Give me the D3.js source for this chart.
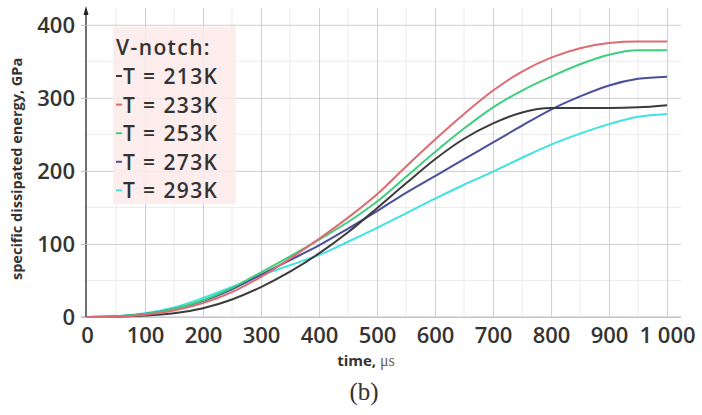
<!DOCTYPE html>
<html>
<head>
<meta charset="utf-8">
<script src="https://cdn.jsdelivr.net/npm/d3@7/dist/d3.min.js"></script>
<style>
  html, body { margin: 0; padding: 0; background: #fff; }
  svg { display: block; }
  text { font-family: "Open Sans", "DejaVu Sans", sans-serif; fill: #333; }
</style>
</head>
<body>
<svg id="chart" width="702" height="415"></svg>
<script>
// Time samples (µs)
const times = [0, 50, 100, 150, 200, 250, 300, 350, 400, 450, 500, 550, 600, 650, 700, 750, 800, 850, 900, 950, 1000];

// Specific dissipated energy (GPa) per test temperature
const e213 = [0, 0.3, 2, 5, 12, 24, 41, 62, 87, 116, 149, 183, 216, 244, 265, 280, 286, 286, 286, 287, 290];
const e233 = [0, 0.5, 3, 9, 19, 34, 55, 80, 107, 136, 168, 206, 243, 278, 310, 336, 355, 368, 375, 377, 377];
const e253 = [0, 1, 4, 11, 23, 40, 61, 83, 106, 130, 158, 192, 226, 258, 287, 310, 329, 346, 359, 365, 365];
const e273 = [0, 1, 4, 11, 22, 38, 58, 78, 98, 121, 145, 170, 193, 216, 239, 262, 284, 302, 317, 326, 329];
const e293 = [0, 1, 5, 13, 26, 41, 57, 71, 85, 103, 122, 142, 162, 181, 199, 218, 236, 251, 264, 274, 278];

const seriesNames = ["T = 213K", "T = 233K", "T = 253K", "T = 273K", "T = 293K"];
const seriesValues = [e213, e233, e253, e273, e293];
const seriesColors = ["#3b3b3b", "#dd6b70", "#3fcf7c", "#4a4f9c", "#3fe3df"];

const xTicks = [0, 100, 200, 300, 400, 500, 600, 700, 800, 900, 1000];
const xTickLabels = ["0", "100", "200", "300", "400", "500", "600", "700", "800", "900", "1 000"];
const yTicks = [0, 100, 200, 300, 400];
const legendTitle = "V-notch:";

const svg = d3.select("#chart");

const x = d3.scaleLinear().domain([0, 1024]).range([87, 681]);
const y = d3.scaleLinear().domain([0, 423]).range([317, 8]);

// minor grid every 50
const minorX = d3.range(50, 1024, 100);
const minorY = d3.range(50, 423, 100);
const grid = svg.append("g");
grid.selectAll("line.mx").data(minorX).join("line")
  .attr("x1", d => x(d)).attr("x2", d => x(d))
  .attr("y1", y(423)).attr("y2", y(0))
  .attr("stroke", "#ececec").attr("stroke-width", 1);
grid.selectAll("line.my").data(minorY).join("line")
  .attr("x1", x(0)).attr("x2", x(1024))
  .attr("y1", d => y(d)).attr("y2", d => y(d))
  .attr("stroke", "#ececec").attr("stroke-width", 1);

// major grid via axes
const xGrid = d3.axisBottom(x).tickValues(xTicks.slice(1)).tickSize(-(y(0) - y(423))).tickFormat("");
grid.append("g").attr("transform", `translate(0,${y(0)})`).call(xGrid)
  .call(g => g.select(".domain").remove())
  .call(g => g.selectAll("line").attr("stroke", "#cfcfcf"));
const yGrid = d3.axisLeft(y).tickValues(yTicks).tickSize(-(x(1024) - x(0))).tickFormat("");
grid.append("g").attr("transform", `translate(${x(0)},0)`).call(yGrid)
  .call(g => g.select(".domain").remove())
  .call(g => g.selectAll("line").attr("stroke", "#cfcfcf"));

// baseline of the x axis
svg.append("line")
  .attr("x1", x(0) - 6).attr("x2", x(1024))
  .attr("y1", y(0)).attr("y2", y(0))
  .attr("stroke", "#bdbdbd").attr("stroke-width", 1.2);

// legend panel
const lg = svg.append("g");
lg.append("rect")
  .attr("x", 113).attr("y", 27).attr("width", 123).attr("height", 177)
  .attr("fill", "#fdeaea").attr("opacity", 0.85);

// curves
const line = d3.line()
  .x((d, i) => x(times[i]))
  .y(d => y(d))
  .curve(d3.curveMonotoneX);
const order = [4, 3, 0, 2, 1];
svg.append("g").selectAll("path").data(order).join("path")
  .attr("d", k => line(seriesValues[k]))
  .attr("fill", "none")
  .attr("stroke", k => seriesColors[k])
  .attr("stroke-width", 2)
  .attr("stroke-linejoin", "round");

// y axis line with arrowhead
svg.append("line")
  .attr("x1", x(0) - 1).attr("x2", x(0) - 1)
  .attr("y1", y(0)).attr("y2", 12)
  .attr("stroke", "#222").attr("stroke-width", 1.3);
svg.append("path")
  .attr("d", `M${x(0) - 1},6 L${x(0) - 3.5},15 L${x(0) + 1.5},15 Z`)
  .attr("fill", "#222");

// tick labels
const yAxis = d3.axisLeft(y).tickValues(yTicks).tickSize(6).tickPadding(6);
svg.append("g").attr("transform", `translate(${x(0)},0)`).call(yAxis)
  .call(g => g.select(".domain").remove())
  .call(g => g.selectAll("line").attr("stroke", "#bbb"))
  .call(g => g.selectAll("text")
    .style("font-family", "'Open Sans', sans-serif")
    .style("font-size", "22px").style("font-weight", "600").attr("fill", "#333")
    .attr("dy", "0.36em"));

const xAxis = d3.axisBottom(x).tickValues(xTicks).tickSize(0).tickPadding(10)
  .tickFormat((d, i) => xTickLabels[i]);
svg.append("g").attr("transform", `translate(0,${y(0)})`).call(xAxis)
  .call(g => g.select(".domain").remove())
  .call(g => g.selectAll("text")
    .style("font-family", "'Open Sans', sans-serif")
    .style("font-size", "22px").style("font-weight", "600").attr("fill", "#333")
    .attr("dy", "0.71em"));

// legend entries
lg.append("text").attr("x", 116).attr("y", 55)
  .style("font-size", "21px").style("font-weight", "600")
  .style("letter-spacing", "1.4px")
  .text(legendTitle);
seriesNames.forEach((name, i) => {
  const by = 84 + i * 28.6;
  lg.append("line")
    .attr("x1", 116).attr("x2", 122)
    .attr("y1", by - 8).attr("y2", by - 8)
    .attr("stroke", seriesColors[i]).attr("stroke-width", 2);
  lg.append("text").attr("x", 123).attr("y", by)
    .style("font-size", "21px").style("font-weight", "600")
    .style("letter-spacing", "1.4px")
    .text(name);
});

// axis titles
svg.append("text")
  .attr("transform", `translate(22,${y(200) - 2}) rotate(-90)`)
  .attr("text-anchor", "middle")
  .style("font-size", "14.5px").style("font-weight", "700")
  .text("specific dissipated energy, GPa");

const xt = svg.append("text")
  .attr("x", 366).attr("y", 366)
  .attr("text-anchor", "middle");
xt.append("tspan").style("font-size", "15px").style("font-weight", "700").text("time, ");
xt.append("tspan").style("font-family", "'Liberation Serif', serif")
  .style("font-size", "16px").attr("fill", "#666").text("μs");

svg.append("text")
  .attr("x", 364).attr("y", 400)
  .attr("text-anchor", "middle")
  .style("font-family", "'Liberation Serif', 'DejaVu Serif', serif")
  .style("font-size", "25px").attr("fill", "#222")
  .text("(b)");
</script>
</body>
</html>
